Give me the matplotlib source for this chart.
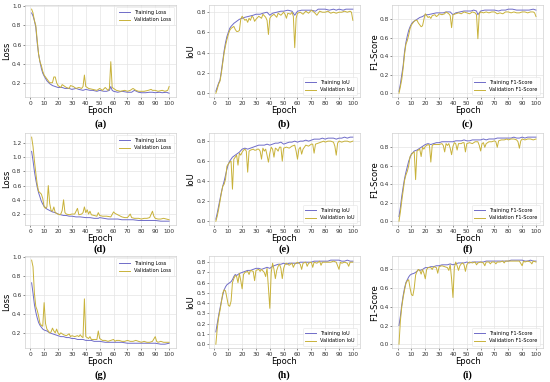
import matplotlib.pyplot as plt

# (a) loss
a_tr_ep = [1, 2, 3, 4, 5, 6, 7, 8, 9, 10, 12, 14, 16, 18, 20, 23, 25, 28, 30, 33, 35, 38, 40, 43, 45, 48, 50, 53, 55, 57, 58, 59, 60, 63, 66, 70, 73, 75, 78, 80, 83, 86, 88, 90, 93, 95, 98, 100]
a_tr = [0.93, 0.9, 0.85, 0.78, 0.62, 0.5, 0.42, 0.35, 0.3, 0.27, 0.22, 0.19, 0.17, 0.16, 0.15, 0.15, 0.14, 0.14, 0.13, 0.14, 0.13, 0.12, 0.13, 0.12, 0.12, 0.11, 0.12, 0.11, 0.11, 0.12, 0.16, 0.12, 0.11, 0.1, 0.11, 0.1, 0.1, 0.12, 0.1, 0.095, 0.095, 0.1, 0.1, 0.095, 0.1, 0.095, 0.1, 0.09]
a_va_ep = [1, 2, 3, 4, 5, 6, 7, 8, 9, 10, 12, 14, 16, 17, 18, 19, 20, 22, 23, 24, 26, 28, 29, 31, 33, 35, 37, 38, 39, 40, 42, 45, 48, 50, 52, 54, 56, 57, 58, 59, 60, 62, 65, 68, 70, 72, 74, 76, 78, 80, 82, 85, 87, 88, 90, 92, 95, 97, 99, 100]
a_va = [0.97, 0.93, 0.85, 0.8, 0.65, 0.5, 0.42, 0.38, 0.32, 0.28, 0.24, 0.2, 0.2, 0.26, 0.26, 0.2, 0.17, 0.15, 0.18, 0.17, 0.15, 0.14, 0.17, 0.16, 0.14, 0.15, 0.14, 0.16, 0.28, 0.16, 0.14, 0.13, 0.12, 0.14, 0.12, 0.15, 0.12, 0.14, 0.42, 0.15, 0.14, 0.12, 0.11, 0.12, 0.11, 0.12, 0.14, 0.12, 0.11, 0.11, 0.11, 0.12, 0.13, 0.12, 0.12, 0.11, 0.12, 0.11, 0.12, 0.16]

# (b) IoU
b_tr_ep = [1, 2, 3, 4, 5, 6, 7, 8, 9, 10, 11, 12, 14, 16, 18, 20, 22, 25, 28, 30, 33, 35, 38, 40, 42, 45, 48, 50, 53, 56, 58, 60, 63, 66, 70, 73, 75, 78, 80, 83, 86, 88, 90, 93, 95, 98, 100]
b_tr = [0.02, 0.06, 0.1, 0.13, 0.22, 0.32, 0.42, 0.5, 0.56, 0.6, 0.64, 0.66, 0.69, 0.71, 0.73, 0.74, 0.75, 0.76, 0.77, 0.78, 0.78, 0.79, 0.8, 0.77, 0.79, 0.8, 0.81, 0.81, 0.82, 0.81, 0.77, 0.81, 0.82, 0.82, 0.82, 0.81, 0.83, 0.83, 0.83, 0.82, 0.83, 0.82, 0.83, 0.82, 0.83, 0.83, 0.83]
b_va_ep = [1, 2, 3, 4, 5, 6, 7, 8, 9, 10, 11, 12, 13, 14, 15, 16, 17, 18, 19, 20, 21, 22, 23, 24, 25, 26, 27, 28, 29, 30, 32, 34, 35, 37, 38, 39, 40, 41, 43, 45, 46, 48, 50, 51, 52, 53, 55, 56, 57, 58, 59, 60, 62, 64, 66, 68, 70, 72, 74, 75, 76, 78, 80, 82, 84, 86, 88, 90, 92, 94, 96, 98, 99, 100]
b_va = [0.0, 0.04, 0.09, 0.12, 0.2, 0.3, 0.4, 0.47, 0.53, 0.58, 0.62, 0.64, 0.65, 0.66, 0.63, 0.61, 0.61, 0.62, 0.73, 0.76, 0.74, 0.72, 0.73, 0.7, 0.74, 0.72, 0.76, 0.75, 0.71, 0.73, 0.76, 0.74, 0.78, 0.75, 0.72, 0.58, 0.74, 0.76, 0.78, 0.75, 0.79, 0.77, 0.8, 0.78, 0.74, 0.79, 0.78, 0.8, 0.76, 0.45, 0.74, 0.79, 0.8, 0.78, 0.81, 0.79, 0.82, 0.8, 0.77, 0.79, 0.81, 0.8, 0.8, 0.81, 0.79, 0.8, 0.79, 0.8, 0.8, 0.81, 0.8, 0.81, 0.8, 0.72]

# (c) F1
c_tr_ep = [1, 2, 3, 4, 5, 6, 7, 8, 9, 10, 11, 12, 14, 16, 18, 20, 22, 25, 28, 30, 33, 35, 38, 40, 42, 45, 48, 50, 53, 55, 57, 58, 60, 63, 66, 70, 73, 75, 78, 80, 83, 86, 88, 90, 93, 95, 98, 100]
c_tr = [0.02, 0.1, 0.2, 0.3, 0.45, 0.55, 0.62, 0.68, 0.72, 0.75, 0.77, 0.78, 0.8, 0.82, 0.83, 0.85, 0.85, 0.86, 0.87, 0.87, 0.87, 0.88, 0.88, 0.85, 0.87, 0.88, 0.89, 0.89, 0.89, 0.9, 0.89, 0.85, 0.89, 0.9, 0.9, 0.9, 0.89, 0.9, 0.9, 0.91, 0.91, 0.9, 0.9, 0.9, 0.9, 0.9, 0.91, 0.9]
c_va_ep = [1, 2, 3, 4, 5, 6, 7, 8, 9, 10, 11, 12, 13, 14, 15, 16, 17, 18, 19, 20, 21, 22, 23, 24, 25, 27, 28, 29, 30, 32, 34, 35, 37, 38, 39, 40, 42, 44, 46, 48, 50, 52, 54, 56, 57, 58, 59, 60, 62, 64, 66, 68, 70, 72, 74, 76, 78, 80, 82, 84, 86, 88, 90, 92, 94, 96, 98, 99, 100]
c_va = [0.0, 0.07, 0.15, 0.27, 0.42, 0.53, 0.57, 0.63, 0.7, 0.74, 0.76, 0.78, 0.79, 0.79, 0.76, 0.74, 0.72, 0.73, 0.8, 0.86, 0.84, 0.82, 0.83, 0.81, 0.84, 0.85, 0.83, 0.84, 0.86, 0.85, 0.86, 0.88, 0.86, 0.84, 0.71, 0.85, 0.86, 0.87, 0.86, 0.88, 0.87, 0.86, 0.88, 0.87, 0.85, 0.59, 0.86, 0.88, 0.87, 0.88, 0.87, 0.88, 0.88, 0.86, 0.87, 0.86, 0.88, 0.88, 0.87, 0.88, 0.87, 0.87, 0.88, 0.88, 0.87, 0.88, 0.88, 0.87, 0.83]

# (d) loss
d_tr_ep = [1, 2, 3, 4, 5, 6, 7, 8, 9, 10, 11, 12, 14, 16, 18, 20, 22, 24, 26, 28, 30, 33, 36, 40, 43, 46, 49, 50, 53, 56, 60, 63, 66, 70, 74, 78, 82, 86, 90, 94, 97, 100]
d_tr = [1.08, 0.95, 0.8, 0.68, 0.58, 0.5, 0.44, 0.38, 0.34, 0.31, 0.29, 0.27, 0.25, 0.23, 0.22, 0.2, 0.19, 0.18, 0.18, 0.17, 0.17, 0.16, 0.16, 0.15, 0.15, 0.14, 0.14, 0.15, 0.14, 0.13, 0.13, 0.13, 0.12, 0.12, 0.12, 0.11, 0.11, 0.11, 0.11, 0.1, 0.1, 0.1]
d_va_ep = [1, 2, 3, 4, 5, 6, 7, 8, 9, 10, 11, 12, 13, 14, 15, 16, 17, 18, 19, 20, 21, 22, 23, 24, 25, 26, 28, 30, 32, 34, 35, 37, 38, 39, 40, 41, 42, 43, 44, 46, 48, 49, 50, 52, 55, 58, 60, 61, 62, 64, 66, 68, 70, 72, 73, 75, 78, 80, 82, 84, 86, 88, 89, 90, 92, 94, 96, 98, 100]
d_va = [1.28, 1.15, 0.95, 0.78, 0.62, 0.52, 0.5, 0.48, 0.42, 0.3, 0.28, 0.3, 0.6, 0.35, 0.25, 0.24, 0.3, 0.22, 0.21, 0.2, 0.19, 0.2, 0.25, 0.4, 0.22, 0.2, 0.19, 0.2, 0.2, 0.28, 0.19, 0.2, 0.22, 0.3, 0.22, 0.26, 0.2, 0.24, 0.19, 0.18, 0.17, 0.22, 0.18, 0.17, 0.17, 0.16, 0.23, 0.21, 0.2, 0.18, 0.16, 0.15, 0.15, 0.2, 0.15, 0.14, 0.14, 0.13, 0.14, 0.14, 0.15, 0.24, 0.17, 0.14, 0.13, 0.13, 0.14, 0.13, 0.12]

# (e) IoU
e_tr_ep = [1, 2, 3, 4, 5, 6, 7, 8, 9, 10, 11, 12, 13, 14, 16, 18, 20, 22, 24, 26, 28, 30, 32, 34, 36, 38, 40, 42, 44, 46, 48, 50, 52, 54, 56, 58, 60, 62, 64, 66, 68, 70, 72, 74, 76, 78, 80, 82, 84, 86, 88, 90, 92, 94, 96, 98, 100]
e_tr = [0.02, 0.08, 0.15, 0.22, 0.29, 0.35, 0.4, 0.46, 0.52, 0.57, 0.6, 0.62, 0.64, 0.65, 0.67, 0.69, 0.72, 0.73, 0.72, 0.73, 0.74, 0.75, 0.76, 0.76, 0.76, 0.77, 0.76, 0.77, 0.78, 0.78, 0.79, 0.77, 0.78, 0.79, 0.79, 0.8, 0.79, 0.8, 0.8, 0.81, 0.8, 0.81, 0.82, 0.82, 0.82, 0.83, 0.82, 0.83, 0.83, 0.83, 0.82, 0.83, 0.83, 0.84, 0.83, 0.84, 0.84]
e_va_ep = [1, 2, 3, 4, 5, 6, 7, 8, 9, 10, 11, 12, 13, 14, 15, 16, 17, 18, 19, 20, 21, 22, 23, 24, 25, 26, 28, 29, 30, 31, 32, 33, 34, 35, 36, 37, 38, 39, 40, 41, 42, 43, 44, 45, 46, 47, 48, 49, 50, 52, 54, 56, 58, 59, 60, 61, 62, 63, 64, 65, 66, 68, 70, 71, 72, 73, 75, 77, 79, 80, 82, 84, 86, 87, 88, 89, 90, 92, 94, 96, 98, 100]
e_va = [0.0, 0.05, 0.12, 0.2, 0.28, 0.35, 0.37, 0.42, 0.55, 0.57, 0.59, 0.6, 0.32, 0.62, 0.64, 0.66, 0.56, 0.68, 0.66, 0.69, 0.71, 0.72, 0.7, 0.49, 0.7, 0.71, 0.72, 0.71, 0.71, 0.72, 0.72, 0.7, 0.62, 0.73, 0.7, 0.72, 0.66, 0.59, 0.68, 0.74, 0.72, 0.64, 0.73, 0.72, 0.7, 0.74, 0.74, 0.6, 0.73, 0.74, 0.73, 0.75, 0.76, 0.7, 0.62, 0.72, 0.74, 0.67, 0.72, 0.74, 0.76, 0.75, 0.77, 0.77, 0.68, 0.77, 0.78, 0.79, 0.8, 0.79, 0.8, 0.8, 0.79, 0.75, 0.66, 0.78, 0.8, 0.79, 0.8, 0.8, 0.79, 0.8]

# (f) F1
f_tr_ep = [1, 2, 3, 4, 5, 6, 7, 8, 9, 10, 11, 12, 14, 16, 18, 20, 22, 24, 26, 28, 30, 32, 34, 36, 38, 40, 42, 44, 46, 48, 50, 52, 54, 56, 58, 60, 62, 64, 66, 68, 70, 72, 74, 76, 78, 80, 82, 84, 86, 88, 90, 92, 94, 96, 98, 100]
f_tr = [0.05, 0.15, 0.27, 0.37, 0.46, 0.53, 0.59, 0.65, 0.69, 0.73, 0.74, 0.76, 0.77, 0.79, 0.81, 0.83, 0.84, 0.83, 0.84, 0.85, 0.85, 0.86, 0.86, 0.86, 0.86, 0.86, 0.87, 0.87, 0.87, 0.88, 0.87, 0.87, 0.88, 0.88, 0.88, 0.88, 0.89, 0.88, 0.89, 0.89, 0.89, 0.9, 0.9, 0.9, 0.9, 0.9, 0.9, 0.91, 0.9, 0.9, 0.91, 0.9, 0.91, 0.91, 0.91, 0.91]
f_va_ep = [1, 2, 3, 4, 5, 6, 7, 8, 9, 10, 11, 12, 13, 14, 15, 16, 17, 18, 19, 20, 21, 22, 23, 24, 25, 26, 28, 30, 32, 33, 34, 35, 36, 37, 38, 39, 40, 41, 42, 43, 44, 46, 47, 48, 49, 50, 52, 54, 56, 58, 59, 60, 61, 62, 63, 64, 66, 68, 70, 71, 72, 73, 75, 77, 79, 80, 82, 84, 86, 87, 88, 89, 90, 92, 94, 96, 98, 100]
f_va = [0.0, 0.1, 0.22, 0.33, 0.44, 0.5, 0.54, 0.6, 0.7, 0.72, 0.74, 0.75, 0.45, 0.76, 0.77, 0.78, 0.7, 0.8, 0.78, 0.81, 0.82, 0.83, 0.82, 0.64, 0.82, 0.83, 0.83, 0.83, 0.84, 0.82, 0.75, 0.84, 0.82, 0.84, 0.79, 0.72, 0.81, 0.85, 0.84, 0.77, 0.84, 0.84, 0.85, 0.85, 0.75, 0.84, 0.85, 0.84, 0.86, 0.86, 0.82, 0.76, 0.84, 0.85, 0.8, 0.84, 0.86, 0.86, 0.87, 0.86, 0.8, 0.87, 0.88, 0.88, 0.89, 0.88, 0.89, 0.89, 0.88, 0.86, 0.79, 0.87, 0.89, 0.88, 0.89, 0.89, 0.88, 0.89]

# (g) loss
g_tr_ep = [1, 2, 3, 4, 5, 6, 7, 8, 9, 10, 12, 14, 16, 18, 20, 22, 24, 26, 28, 30, 32, 34, 36, 38, 40, 42, 44, 46, 48, 50, 54, 58, 62, 66, 70, 74, 78, 82, 86, 90, 94, 97, 100]
g_tr = [0.73, 0.62, 0.5, 0.42, 0.36, 0.31, 0.28, 0.26, 0.24, 0.23, 0.22, 0.2, 0.19, 0.18, 0.17, 0.16, 0.16, 0.15, 0.15, 0.14, 0.14, 0.13, 0.13, 0.13, 0.12, 0.12, 0.12, 0.11, 0.11, 0.11, 0.1, 0.1, 0.1, 0.1, 0.09, 0.09, 0.09, 0.09, 0.09, 0.09, 0.08, 0.08, 0.09]
g_va_ep = [1, 2, 3, 4, 5, 6, 7, 8, 9, 10, 11, 12, 13, 14, 15, 16, 17, 18, 19, 20, 21, 22, 24, 26, 28, 29, 30, 32, 34, 35, 36, 37, 38, 39, 40, 41, 42, 43, 44, 46, 48, 49, 50, 52, 54, 56, 58, 60, 61, 62, 64, 66, 68, 70, 72, 74, 76, 78, 80, 82, 84, 86, 88, 90, 91, 92, 94, 96, 98, 100]
g_va = [0.97, 0.9, 0.62, 0.48, 0.44, 0.38, 0.3, 0.28, 0.27, 0.52, 0.3, 0.24, 0.22, 0.2, 0.21, 0.25, 0.22, 0.2, 0.24, 0.2, 0.18, 0.2, 0.18, 0.17, 0.19, 0.16, 0.17, 0.16, 0.17, 0.16, 0.18, 0.16, 0.15, 0.56, 0.16, 0.15, 0.14, 0.16, 0.13, 0.13, 0.13, 0.22, 0.14, 0.12, 0.12, 0.11, 0.12, 0.13, 0.11, 0.12, 0.12, 0.11, 0.11, 0.12, 0.11, 0.11, 0.12, 0.11, 0.1, 0.11, 0.1, 0.1, 0.11, 0.16, 0.11, 0.1, 0.11, 0.1, 0.1, 0.1]

# (h) IoU
h_tr_ep = [1, 2, 3, 4, 5, 6, 7, 8, 9, 10, 11, 12, 13, 14, 15, 16, 18, 20, 22, 24, 26, 28, 30, 32, 34, 36, 38, 40, 42, 44, 46, 48, 50, 52, 54, 56, 58, 60, 62, 64, 66, 68, 70, 72, 74, 76, 78, 80, 82, 84, 86, 88, 90, 92, 94, 96, 98, 100]
h_tr = [0.12, 0.2, 0.28, 0.35, 0.42, 0.48, 0.53, 0.56, 0.58, 0.59, 0.6, 0.61, 0.63, 0.66, 0.68, 0.67, 0.69, 0.7, 0.71, 0.72, 0.72, 0.73, 0.74, 0.74, 0.73, 0.74, 0.75, 0.74, 0.76, 0.77, 0.78, 0.78, 0.79, 0.78, 0.79, 0.79, 0.79, 0.79, 0.8, 0.8, 0.8, 0.8, 0.8, 0.81, 0.81, 0.81, 0.81, 0.81, 0.81, 0.82, 0.82, 0.82, 0.82, 0.81, 0.81, 0.82, 0.81, 0.81]
h_va_ep = [1, 2, 3, 4, 5, 6, 7, 8, 9, 10, 11, 12, 13, 14, 15, 16, 17, 18, 19, 20, 21, 22, 24, 25, 26, 28, 29, 30, 32, 33, 34, 36, 37, 38, 39, 40, 41, 42, 43, 44, 45, 46, 47, 48, 49, 50, 51, 52, 54, 56, 57, 58, 60, 62, 63, 64, 66, 67, 68, 70, 71, 72, 74, 76, 77, 78, 80, 82, 84, 86, 88, 90, 91, 92, 94, 96, 97, 98, 100]
h_va = [0.0, 0.15, 0.26, 0.33, 0.41, 0.5, 0.53, 0.52, 0.45, 0.38, 0.37, 0.42, 0.6, 0.64, 0.67, 0.66, 0.6, 0.69, 0.62, 0.54, 0.68, 0.7, 0.71, 0.68, 0.72, 0.71, 0.62, 0.72, 0.73, 0.71, 0.73, 0.7, 0.66, 0.74, 0.55, 0.35, 0.7, 0.79, 0.73, 0.64, 0.72, 0.76, 0.78, 0.74, 0.64, 0.74, 0.78, 0.79, 0.77, 0.79, 0.75, 0.78, 0.8, 0.78, 0.73, 0.79, 0.8, 0.76, 0.79, 0.8, 0.75, 0.8, 0.79, 0.81, 0.77, 0.8, 0.8, 0.8, 0.8, 0.81, 0.8, 0.73, 0.8, 0.79, 0.8, 0.79, 0.76, 0.8, 0.8]

# (i) F1
i_tr_ep = [1, 2, 3, 4, 5, 6, 7, 8, 9, 10, 12, 14, 15, 16, 18, 20, 22, 24, 26, 28, 30, 32, 34, 36, 38, 40, 42, 44, 46, 48, 50, 52, 54, 56, 58, 60, 62, 64, 66, 68, 70, 72, 74, 76, 78, 80, 82, 84, 86, 88, 90, 92, 94, 96, 98, 100]
i_tr = [0.2, 0.3, 0.42, 0.52, 0.6, 0.66, 0.69, 0.72, 0.74, 0.75, 0.76, 0.78, 0.8, 0.79, 0.8, 0.82, 0.82, 0.83, 0.83, 0.84, 0.84, 0.85, 0.85, 0.85, 0.86, 0.85, 0.86, 0.87, 0.87, 0.87, 0.88, 0.87, 0.88, 0.88, 0.88, 0.88, 0.88, 0.89, 0.89, 0.89, 0.89, 0.89, 0.89, 0.89, 0.89, 0.89, 0.9, 0.9, 0.9, 0.9, 0.9, 0.89, 0.89, 0.9, 0.89, 0.89]
i_va_ep = [1, 2, 3, 4, 5, 6, 7, 8, 9, 10, 11, 12, 13, 14, 15, 16, 17, 18, 19, 20, 21, 22, 24, 25, 26, 28, 29, 30, 32, 34, 36, 37, 38, 39, 40, 41, 42, 43, 44, 45, 46, 47, 48, 49, 50, 51, 52, 54, 56, 57, 58, 60, 62, 63, 64, 66, 67, 68, 70, 71, 72, 74, 76, 77, 78, 80, 82, 84, 86, 88, 90, 91, 92, 94, 96, 97, 98, 100]
i_va = [0.0, 0.25, 0.4, 0.5, 0.58, 0.65, 0.68, 0.69, 0.6, 0.53, 0.52, 0.6, 0.74, 0.78, 0.8, 0.79, 0.75, 0.8, 0.76, 0.7, 0.8, 0.82, 0.82, 0.8, 0.83, 0.82, 0.76, 0.83, 0.84, 0.83, 0.82, 0.79, 0.85, 0.7, 0.5, 0.82, 0.88, 0.84, 0.79, 0.84, 0.86, 0.87, 0.85, 0.78, 0.85, 0.87, 0.88, 0.87, 0.88, 0.85, 0.87, 0.88, 0.87, 0.84, 0.88, 0.88, 0.86, 0.88, 0.88, 0.86, 0.88, 0.88, 0.89, 0.87, 0.89, 0.89, 0.89, 0.89, 0.89, 0.89, 0.84, 0.89, 0.88, 0.89, 0.88, 0.86, 0.89, 0.88]

panels = [
    ("a", "Loss", a_tr_ep, a_tr, a_va_ep, a_va),
    ("b", "IoU", b_tr_ep, b_tr, b_va_ep, b_va),
    ("c", "F1-Score", c_tr_ep, c_tr, c_va_ep, c_va),
    ("d", "Loss", d_tr_ep, d_tr, d_va_ep, d_va),
    ("e", "IoU", e_tr_ep, e_tr, e_va_ep, e_va),
    ("f", "F1-Score", f_tr_ep, f_tr, f_va_ep, f_va),
    ("g", "Loss", g_tr_ep, g_tr, g_va_ep, g_va),
    ("h", "IoU", h_tr_ep, h_tr, h_va_ep, h_va),
    ("i", "F1-Score", i_tr_ep, i_tr, i_va_ep, i_va),
]

train_color = "#6f6cc8"
val_color = "#c8b23a"

lefts = [0.045, 0.38, 0.713]
widths = [0.275, 0.274, 0.274]
bottoms = [0.745, 0.41, 0.088]
height = 0.242
caption_y = [0.663, 0.335, 0.006]

fig = plt.figure(figsize=(5.5, 3.82), dpi=100)

for k, (tag, metric, tr_ep, tr, va_ep, va) in enumerate(panels):
    row, col = divmod(k, 3)
    ax = fig.add_axes([lefts[col], bottoms[row], widths[col], height])
    loc = "upper right" if metric == "Loss" else "lower right"
    ax.plot(tr_ep, tr, color=train_color, lw=0.7, label="Training " + metric)
    ax.plot(va_ep, va, color=val_color, lw=0.7, label="Validation " + metric)
    ax.set_xticks(range(0, 101, 10))
    if tag == "h":
        ax.set_yticks([0.0, 0.1, 0.2, 0.3, 0.4, 0.5, 0.6, 0.7, 0.8])
    ax.grid(True, color="#e4e4e4", lw=0.5)
    ax.set_axisbelow(True)
    for s in ax.spines.values():
        s.set_color("#d0d0d0")
        s.set_linewidth(0.5)
    ax.tick_params(labelsize=4.2, length=1.2, width=0.4, pad=1.2, colors="#333333")
    ax.set_xlabel("Epoch", fontsize=6, labelpad=0.5)
    ax.set_ylabel(metric, fontsize=6, labelpad=0.5)
    leg = ax.legend(loc=loc, fontsize=3.6, frameon=True, handlelength=2.2, borderpad=0.5)
    leg.get_frame().set_linewidth(0.4)
    leg.get_frame().set_edgecolor("#dddddd")
    cx = lefts[col] + widths[col] / 2
    fig.text(cx, caption_y[row], "(" + tag + ")", ha="center", va="bottom",
             fontsize=7.5, family="Liberation Serif", fontweight="bold")

fig.savefig("out.png", dpi=100)
